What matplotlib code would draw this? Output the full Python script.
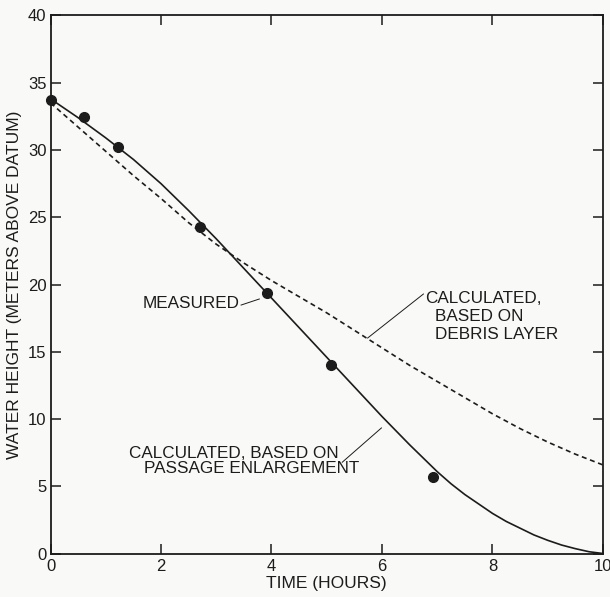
"""
    Water height drawdown: measured vs calculated
"""
import numpy as np
import matplotlib
matplotlib.use("Agg")
import matplotlib.pyplot as plt

plt.rcParams["font.family"] = ["Liberation Sans", "DejaVu Sans"]

# curve readings (hours, meters above datum)
passage_hours = [0, 0.5, 1, 1.5, 2, 2.5, 3, 3.5, 4, 4.5, 5, 5.5, 6, 6.5, 7,
                 7.25, 7.5, 7.75, 8, 8.25, 8.5, 8.75, 9, 9.25, 9.5, 9.75, 10]
passage_enlargement = [33.8, 32.4, 30.9, 29.3, 27.5, 25.5, 23.4, 21.2, 19.0, 16.8, 14.6,
                       12.4, 10.2, 8.1, 6.1, 5.2, 4.4, 3.7, 3.0, 2.4, 1.9, 1.4,
                       1.0, 0.65, 0.38, 0.15, 0.02]
debris_hours = [0, 0.5, 1, 1.5, 2, 2.5, 3, 3.5, 4, 4.5, 5, 5.5, 6, 6.5, 7, 7.5, 8,
                8.5, 9, 9.5, 10]
debris_layer = [33.5, 31.7, 29.9, 28.1, 26.4, 24.6, 23.0, 21.6, 20.3, 19.1, 17.9,
                16.6, 15.3, 14.0, 12.8, 11.6, 10.4, 9.3, 8.3, 7.4, 6.6]

# measured points
measured_hours = [0, 0.6, 1.22, 2.71, 3.91, 5.07, 6.92]
measured_height = [33.75, 32.45, 30.2, 24.25, 19.4, 14.05, 5.7]

INK = "#1c1c1c"
BG = "#f9f9f7"

fig = plt.figure(figsize=(6.10, 5.97), dpi=100, facecolor=BG)
ax = fig.add_axes([0.0828, 0.0724, 0.9057, 0.9018], facecolor=BG)

ax.plot(passage_hours, passage_enlargement, color=INK, lw=1.2)
ax.plot(debris_hours, debris_layer, color=INK, lw=1.2, linestyle=(0, (3.0, 2.2)))
ax.plot(measured_hours, measured_height, "o", color=INK, markersize=7, clip_on=False, zorder=5)

ax.set_xlim(0, 10)
ax.set_ylim(0, 40)
ax.set_xticks(np.arange(0, 11, 2))
ax.set_yticks(np.arange(0, 41, 5))
ax.tick_params(direction="in", length=7, width=1.1, colors=INK, labelsize=12,
               top=True, right=True, pad=3)
ax.tick_params(axis="x", pad=4)
for s in ax.spines.values():
    s.set_linewidth(1.3)
    s.set_color(INK)

ax.set_xlabel("TIME (HOURS)", fontsize=12.5, color=INK, labelpad=1)
ax.set_ylabel("WATER HEIGHT (METERS ABOVE DATUM)", fontsize=12.5, color=INK, labelpad=4)

fs = 12.3
# measured label
ax.text(3.42, 18.63, "MEASURED", fontsize=fs, color=INK, ha="right", va="center")
ax.plot([3.45, 3.78], [18.48, 18.93], color=INK, lw=0.7)

# debris layer label
ax.text(6.78, 18.93, "CALCULATED,", fontsize=fs, color=INK, ha="left", va="center")
ax.text(6.96, 17.6, "BASED ON", fontsize=fs, color=INK, ha="left", va="center")
ax.text(6.96, 16.3, "DEBRIS LAYER", fontsize=fs, color=INK, ha="left", va="center")
ax.plot([6.75, 5.74], [19.3, 16.03], color=INK, lw=0.7)

# passage enlargement label
ax.text(1.42, 7.45, "CALCULATED, BASED ON", fontsize=fs, color=INK, ha="left", va="center")
ax.text(1.70, 6.30, "PASSAGE ENLARGEMENT", fontsize=fs, color=INK, ha="left", va="center")
ax.plot([5.28, 5.99], [6.8, 9.35], color=INK, lw=0.7)

fig.savefig("out.png", dpi=100, facecolor=BG)
